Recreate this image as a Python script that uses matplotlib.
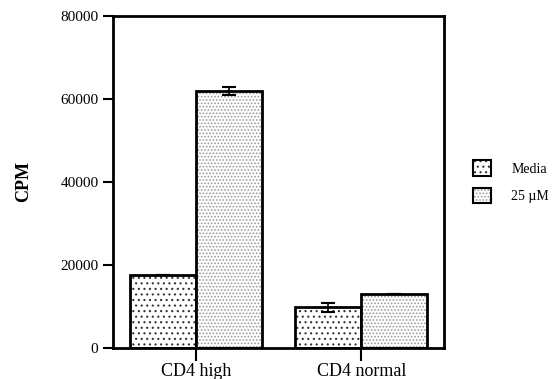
import numpy as np
import matplotlib
matplotlib.use('Agg')
import matplotlib.pyplot as plt
from matplotlib.legend_handler import HandlerTuple

plt.rcParams['font.family'] = ['Liberation Serif', 'DejaVu Serif']
plt.rcParams['hatch.linewidth'] = 0.8

groups = ['CD4 high', 'CD4 normal']
series = ['Media', '25 \u00b5M']
media = [17600, 9800]
media_err = [0, 1100]
treated = [62000, 13000]
treated_err = [1000, 0]

hatches = ['...', '.....']
hatch_colors = ['#333333', '#9a9a9a']

fig = plt.figure(figsize=(5.53, 3.79), dpi=100)
ax = fig.add_axes([113 / 553, 31 / 379, 331 / 553, 332 / 379])

x = np.arange(len(groups))
width = 0.4
handles = []
for i, (vals, errs) in enumerate([(media, media_err), (treated, treated_err)]):
    pos = x - width / 2 + i * width
    ax.bar(pos, vals, width, color='white', edgecolor=hatch_colors[i],
           hatch=hatches[i], linewidth=0)
    ax.bar(pos, vals, width, fill=False, edgecolor='black', linewidth=2)
    ax.errorbar(pos, vals, yerr=errs, fmt='none', ecolor='black',
                elinewidth=1.2, capsize=5, capthick=1.5)
    h_fill = plt.Rectangle((0, 0), 1, 1, facecolor='white', edgecolor=hatch_colors[i],
                           hatch=hatches[i], linewidth=0)
    h_edge = plt.Rectangle((0, 0), 1, 1, fill=False, edgecolor='black', linewidth=1.5)
    handles.append((h_fill, h_edge))

ax.set_xlim(-0.5, 1.5)
ax.set_ylim(0, 80000)
ax.set_yticks([0, 20000, 40000, 60000, 80000])
ax.set_xticks(x)
ax.set_xticklabels(groups, fontsize=13)
ax.tick_params(axis='y', labelsize=11, width=1.5, length=7, direction='out')
ax.tick_params(axis='x', width=1.5, length=9, direction='out', pad=2)
for s in ax.spines.values():
    s.set_linewidth(2)
ax.set_ylabel('CPM', fontsize=13, fontweight='bold', labelpad=20)

fig.legend(handles, series, loc='upper left', bbox_to_anchor=(460 / 553, 1 - 148 / 379),
           frameon=False, fontsize=10, handlelength=1.3, handleheight=1.3,
           labelspacing=0.9, handletextpad=1.5,
           handler_map={tuple: HandlerTuple(ndivide=1)})

fig.savefig('out.png', dpi=100)
